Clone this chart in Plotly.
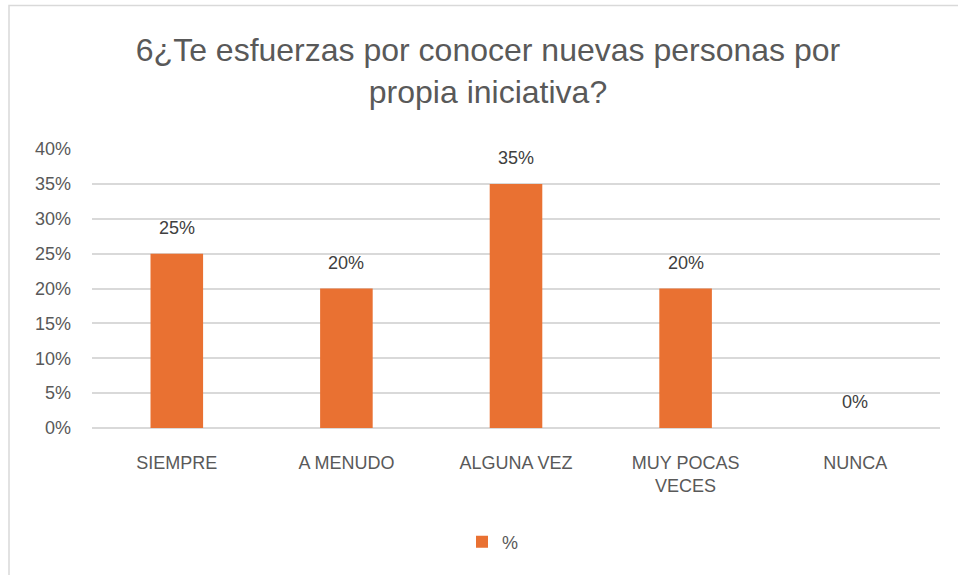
import plotly.graph_objects as go

categories = ["SIEMPRE", "A MENUDO", "ALGUNA VEZ", "MUY POCAS<br>VECES", "NUNCA"]
values = [0.25, 0.20, 0.35, 0.20, 0.0]
series_name = "%"
title_text = "6¿Te esfuerzas por conocer nuevas personas por<br>propia iniciativa?"
y_ticks = [0, 0.05, 0.10, 0.15, 0.20, 0.25, 0.30, 0.35, 0.40]

W, H = 958, 575
L, R, T, B = 92, 18, 149, 147
pw = W - L - R
ph = H - T - B

TEXT = "#595959"
BAR = "#E97132"
FONT = "Arial, sans-serif"

fig = go.Figure()
fig.add_trace(go.Bar(
    x=categories, y=values, name=series_name,
    marker=dict(color=BAR, line=dict(width=0)),
    width=0.31,
    showlegend=True,
))

for c, v in zip(categories, values):
    fig.add_annotation(x=c, y=v, text=f"{round(v*100)}%", showarrow=False,
                       yanchor="middle", yshift=26,
                       font=dict(size=18, color="#404040", family="Arial"))

fig.update_layout(
    width=W, height=H,
    margin=dict(l=L, r=R, t=T, b=B, pad=0),
    paper_bgcolor="white", plot_bgcolor="white",
    title=dict(text=title_text, x=488 / W, xref="container", xanchor="center",
               y=1 - 61 / H, yref="container", yanchor="middle",
               font=dict(size=32, color=TEXT, family=FONT)),
    font=dict(family="Arial", color=TEXT, size=18),
    showlegend=True,
    legend=dict(orientation="h", x=(462 - L) / pw, xanchor="left",
                y=(T + ph - 542) / ph, yanchor="middle",
                font=dict(size=18, color=TEXT, family="Arial"),
                itemwidth=30, bgcolor="rgba(0,0,0,0)"),
    xaxis=dict(showgrid=False, showline=False, zeroline=False, ticks="",
               tickfont=dict(size=18, color=TEXT, family="Arial"),
               ticklabelstandoff=22),
    yaxis=dict(range=[0, 0.40], tickvals=y_ticks, tickformat=".0%",
               showgrid=True, gridcolor="#D9D9D9", gridwidth=1.5,
               zeroline=True, zerolinecolor="#D9D9D9", zerolinewidth=1.5,
               showline=False, ticks="",
               tickfont=dict(size=18, color=TEXT, family="Arial"),
               ticklabelstandoff=20),
)

fig.add_shape(type="rect", xref="paper", yref="paper",
              x0=(9 - L) / pw, x1=1.2, y0=-1.0, y1=(T + ph - 5.5) / ph,
              line=dict(color="#D9D9D9", width=1.5), fillcolor="rgba(0,0,0,0)",
              layer="below")

fig.write_html("out.html", config={"displayModeBar": False},
               post_script="document.body.style.margin='0';document.body.style.overflow='hidden';")
